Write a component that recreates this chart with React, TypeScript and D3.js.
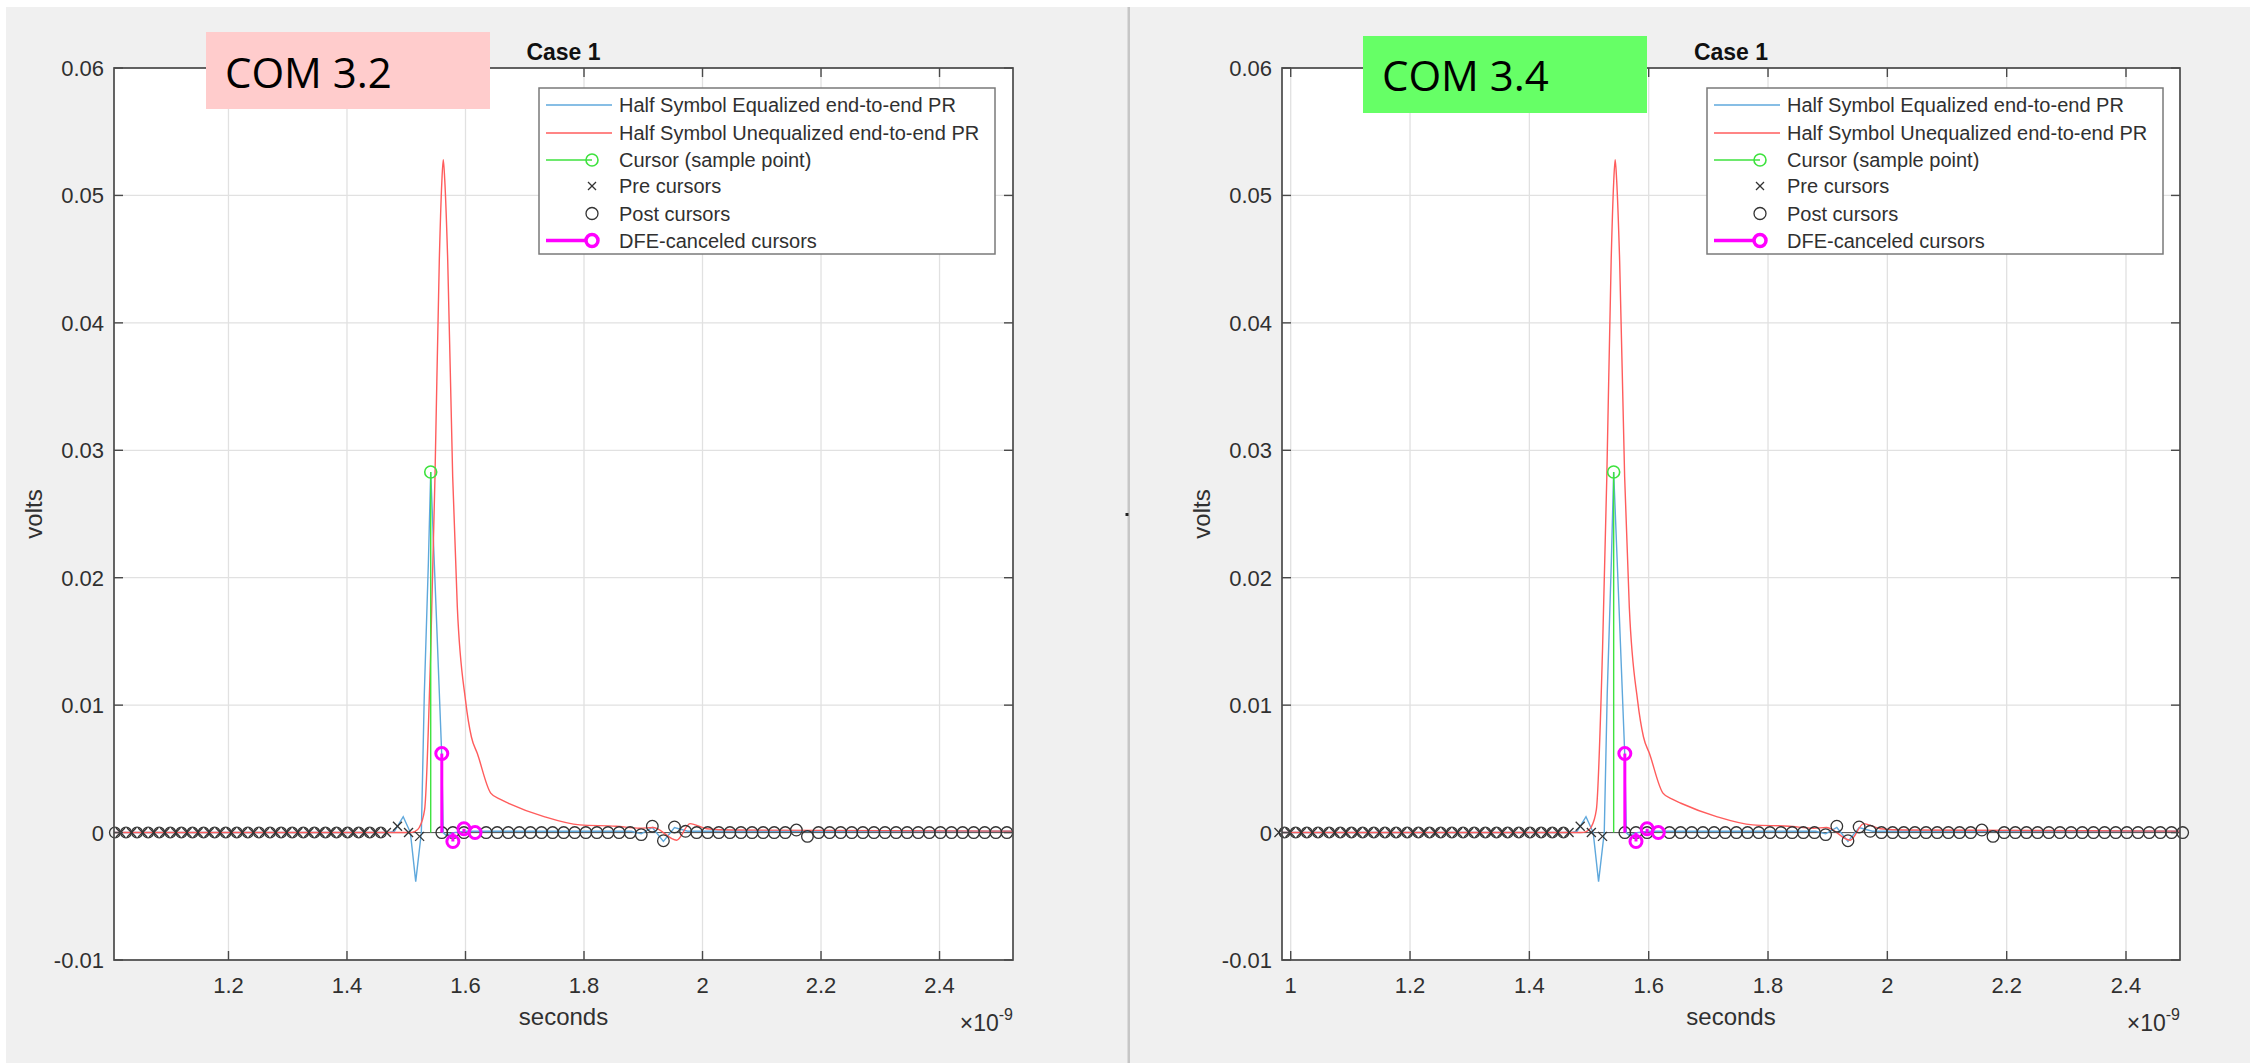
import React from 'react';
import * as d3 from 'd3';

const W = 2254;
const H = 1063;

// ---------- data ----------
const panelTitles = ['Case 1', 'Case 1'];
const versionLabels = ['COM 3.2', 'COM 3.4'];
const versionFills = ['#ffcccc', '#66ff66'];

const legendLabels = [
  'Half Symbol Equalized end-to-end PR',
  'Half Symbol Unequalized end-to-end PR',
  'Cursor (sample point)',
  'Pre cursors',
  'Post cursors',
  'DFE-canceled cursors',
];

const yTicks = [-0.01, 0, 0.01, 0.02, 0.03, 0.04, 0.05, 0.06];
const yTickLabels = ['-0.01', '0', '0.01', '0.02', '0.03', '0.04', '0.05', '0.06'];
const xTicksLeft = [1.2, 1.4, 1.6, 1.8, 2.0, 2.2, 2.4];
const xTickLabelsLeft = ['1.2', '1.4', '1.6', '1.8', '2', '2.2', '2.4'];
const xTicksRight = [1.0, 1.2, 1.4, 1.6, 1.8, 2.0, 2.2, 2.4];
const xTickLabelsRight = ['1', '1.2', '1.4', '1.6', '1.8', '2', '2.2', '2.4'];
const xDomainLeft = [1.0068, 2.524];
const xDomainRight = [0.9854, 2.4905];
const yDomain = [-0.01, 0.06];

// equalized pulse response (time in ns, volts)
const eqTimes = [0.95, 1.47, 1.48, 1.4949, 1.507, 1.516, 1.5255, 1.5305, 1.5373, 1.5413, 1.55, 1.5598, 1.5625, 1.567, 1.58, 1.6, 1.88, 1.8966, 1.9153, 1.934, 1.9527, 1.975, 2.0, 2.6];
const eqValues = [0, 0, 0.0001, 0.00125, 0, -0.00385, 0, 0.0109, 0.0211, 0.0283, 0.018, 0.0062, 0, -0.0002, 0, 0.0001, 0.0001, -0.0001, 0.0004, -0.0007, 0.0004, 0.0001, 0.0001, 0.0001];

// unequalized pulse response (time in ns, volts)
const uneqTimes = [0.95, 1.505, 1.515, 1.522, 1.531, 1.5413, 1.5485, 1.5558, 1.56, 1.5625, 1.565, 1.57, 1.5784, 1.5862, 1.6, 1.61, 1.62, 1.6426, 1.659, 1.6727, 1.7325, 1.793, 1.854, 1.8945, 1.917, 1.9565, 1.979, 2.007, 2.05, 2.6];
const uneqValues = [0, 0, 0.0001, 0.0004, 0.0018, 0.0143, 0.0279, 0.0449, 0.051, 0.0528, 0.0512, 0.0449, 0.0279, 0.0177, 0.0104, 0.0075, 0.0062, 0.0031, 0.0026, 0.0023, 0.00125, 0.0006, 0.0005, 0.00034, 0.0004, -0.0006, 0.0007, 0.0003, 0.0002, 0.0001];
const uneqShiftNs = [0, -0.0187];

const uiNs = 0.0187;
const cursorTimeNs = 1.5413;
const cursorValue = 0.0283;

// pre cursors, k = -1, -2, -3, ...
const preCursorValues = [-0.0003, 0, 0.0005, 0, 0, 0, 0, 0, 0, 0, 0, 0, 0, 0, 0, 0, 0, 0, 0, 0, 0, 0, 0, 0, 0, 0, 0, 0, 0, 0, 0];
// circles seen between the pre cursors (half-UI offset), k = -4.5, -5.5, ...
const preRegionCircleValues = [0, 0, 0, 0, 0, 0, 0, 0, 0, 0, 0, 0, 0, 0, 0, 0, 0, 0, 0, 0, 0, 0, 0, 0, 0, 0, 0];
// post cursors, k = 1, 2, 3, ...
const postCursorValues = [0, 0, 0, 0, 0, 0, 0, 0, 0, 0, 0, 0, 0, 0, 0, 0, 0, 0, -0.00016, 0.0005, -0.00064, 0.00044, 0.0001, 0, 0, 0, 0, 0, 0, 0, 0, 0, 0.0002, -0.0003, 0, 0, 0, 0, 0, 0, 0, 0, 0, 0, 0, 0, 0, 0, 0, 0, 0, 0, 0, 0];
// DFE-canceled cursors, k = 1..4
const dfeValues = [0.0062, -0.0007, 0.0003, 0.0];

// ---------- layout ----------
const PANELS = [
  {
    x0: 114, x1: 1013, y0: 68, y1: 960,
    domain: xDomainLeft, ticks: xTicksLeft, tickLabels: xTickLabelsLeft,
    box: { x: 206, y: 32, w: 284, h: 77, tx: 225, ty: 88 },
    ylabelX: 34,
  },
  {
    x0: 1282, x1: 2180, y0: 68, y1: 960,
    domain: xDomainRight, ticks: xTicksRight, tickLabels: xTickLabelsRight,
    box: { x: 1363, y: 36, w: 284, h: 77, tx: 1382, ty: 91 },
    ylabelX: 1202,
  },
];

const BLUE = '#5fa8dc';
const RED = '#ff5c5c';
const GREEN = '#3ee23e';
const MAG = '#ff00ff';
const MARK = '#333333';
const AXIS = '#4a4a4a';
const TXT = '#303030';

function XMark({ cx, cy, s = 4.5, w = 1.3 }: { cx: number; cy: number; s?: number; w?: number }) {
  return (
    <g stroke={MARK} strokeWidth={w}>
      <line x1={cx - s} y1={cy - s} x2={cx + s} y2={cy + s} />
      <line x1={cx - s} y1={cy + s} x2={cx + s} y2={cy - s} />
    </g>
  );
}

function Panel({ p, i }: { p: any; i: number }) {
  const x = d3.scaleLinear().domain(p.domain).range([p.x0, p.x1]);
  const y = d3.scaleLinear().domain(yDomain).range([p.y1, p.y0]);
  const lin = d3.line<[number, number]>().x((d) => x(d[0])).y((d) => y(d[1])).curve(d3.curveLinear);
  const mono = d3.line<[number, number]>().x((d) => x(d[0])).y((d) => y(d[1])).curve(d3.curveMonotoneX);
  const eqPath = lin(eqTimes.map((t, j) => [t, eqValues[j]] as [number, number])) || '';
  const uneqPath = mono(uneqTimes.map((t, j) => [t + uneqShiftNs[i], uneqValues[j]] as [number, number])) || '';
  const [d0, d1] = p.domain;
  const inDom = (t: number) => t >= d0 - uiNs * 0.35 && t <= d1 + uiNs * 0.35;

  const pre = preCursorValues.map((v, j) => ({ t: cursorTimeNs - (j + 1) * uiNs, v })).filter((m) => inDom(m.t));
  const preCirc = preRegionCircleValues.map((v, j) => ({ t: cursorTimeNs - (j + 4.5) * uiNs, v })).filter((m) => inDom(m.t));
  const post = postCursorValues.map((v, j) => ({ t: cursorTimeNs + (j + 1) * uiNs, v })).filter((m) => inDom(m.t));
  const dfe = dfeValues.map((v, j) => ({ t: cursorTimeNs + (j + 1) * uiNs, v }));

  const clipId = `clip${i}`;
  const lx = p.x0 + 425;
  const ly = p.y0 + 20;
  const rowY = [17, 45, 72, 98, 125.5, 152.5];
  const cx = (p.x0 + p.x1) / 2;

  return (
    <g>
      <defs>
        <clipPath id={clipId}>
          <rect x={p.x0} y={p.y0} width={p.x1 - p.x0} height={p.y1 - p.y0} />
        </clipPath>
      </defs>
      <rect x={p.x0} y={p.y0} width={p.x1 - p.x0} height={p.y1 - p.y0} fill="#fff" />
      {/* grid */}
      <g stroke="#e1e1e1" strokeWidth={1.3}>
        {p.ticks.map((t: number) => (
          <line key={'gx' + t} x1={x(t)} x2={x(t)} y1={p.y0} y2={p.y1} />
        ))}
        {yTicks.map((t) => (
          <line key={'gy' + t} x1={p.x0} x2={p.x1} y1={y(t)} y2={y(t)} />
        ))}
      </g>
      {/* data */}
      <g clipPath={`url(#${clipId})`}>
        <line x1={p.x0} x2={p.x1} y1={y(0)} y2={y(0)} stroke="#555" strokeWidth={1} />
        <path d={eqPath} fill="none" stroke={BLUE} strokeWidth={1.4} />
        <path d={uneqPath} fill="none" stroke={RED} strokeWidth={1.4} />
        <line x1={x(cursorTimeNs)} x2={x(cursorTimeNs)} y1={y(0)} y2={y(cursorValue)} stroke={GREEN} strokeWidth={1.4} />
      </g>
      <circle cx={x(cursorTimeNs)} cy={y(cursorValue)} r={6} fill="none" stroke={GREEN} strokeWidth={1.6} />
      {pre.map((m, j) => (
        <XMark key={'pre' + j} cx={x(m.t)} cy={y(m.v)} />
      ))}
      {preCirc.map((m, j) => (
        <circle key={'pc' + j} cx={x(m.t)} cy={y(m.v)} r={5.4} fill="none" stroke={MARK} strokeWidth={1.3} />
      ))}
      {post.map((m, j) => (
        <circle key={'po' + j} cx={x(m.t)} cy={y(m.v)} r={5.8} fill="none" stroke={MARK} strokeWidth={1.3} />
      ))}
      {dfe.map((m, j) => (
        <g key={'dfe' + j}>
          <line x1={x(m.t)} x2={x(m.t)} y1={y(0)} y2={y(m.v)} stroke={MAG} strokeWidth={3} />
          <circle cx={x(m.t)} cy={y(m.v)} r={6} fill="none" stroke={MAG} strokeWidth={3} />
        </g>
      ))}
      {/* axes box */}
      <rect x={p.x0} y={p.y0} width={p.x1 - p.x0} height={p.y1 - p.y0} fill="none" stroke={AXIS} strokeWidth={1.7} />
      <g stroke={AXIS} strokeWidth={1.4}>
        {p.ticks.map((t: number) => (
          <g key={'tx' + t}>
            <line x1={x(t)} x2={x(t)} y1={p.y1} y2={p.y1 - 9} />
            <line x1={x(t)} x2={x(t)} y1={p.y0} y2={p.y0 + 9} />
          </g>
        ))}
        {yTicks.map((t) => (
          <g key={'ty' + t}>
            <line x1={p.x0} x2={p.x0 + 9} y1={y(t)} y2={y(t)} />
            <line x1={p.x1} x2={p.x1 - 9} y1={y(t)} y2={y(t)} />
          </g>
        ))}
      </g>
      {/* tick labels */}
      <g fontSize={22} fill={TXT}>
        {p.ticks.map((t: number, j: number) => (
          <text key={'lx' + t} x={x(t)} y={993} textAnchor="middle">
            {p.tickLabels[j]}
          </text>
        ))}
        {yTicks.map((t, j) => (
          <text key={'ly' + t} x={p.x0 - 10} y={y(t) + 8} textAnchor="end">
            {yTickLabels[j]}
          </text>
        ))}
      </g>
      <text x={cx} y={1025} textAnchor="middle" fontSize={24} fill={TXT}>seconds</text>
      <text transform={`translate(${p.ylabelX + 8},${(p.y0 + p.y1) / 2}) rotate(-90)`} textAnchor="middle" fontSize={24} fill={TXT}>volts</text>
      <text x={p.x1} y={1031} textAnchor="end" fontSize={23} fill={TXT}>
        ×10<tspan fontSize={16} dy={-11}>-9</tspan>
      </text>
      <text x={cx} y={60} textAnchor="middle" fontSize={23} fontWeight="bold" fill="#111">{panelTitles[i]}</text>
      {/* version label */}
      <rect x={p.box.x} y={p.box.y} width={p.box.w} height={p.box.h} fill={versionFills[i]} />
      <text x={p.box.tx} y={p.box.ty} fontFamily="'Open Sans', 'Noto Sans', sans-serif" fontSize={42} fill="#000">{versionLabels[i]}</text>
      {/* legend */}
      <rect x={lx} y={ly} width={456} height={166} fill="#fff" stroke="#7a7a7a" strokeWidth={1.5} />
      <g>
        <line x1={lx + 7} x2={lx + 73} y1={ly + rowY[0]} y2={ly + rowY[0]} stroke={BLUE} strokeWidth={1.6} />
        <line x1={lx + 7} x2={lx + 73} y1={ly + rowY[1]} y2={ly + rowY[1]} stroke={RED} strokeWidth={1.6} />
        <line x1={lx + 7} x2={lx + 53} y1={ly + rowY[2]} y2={ly + rowY[2]} stroke={GREEN} strokeWidth={1.6} />
        <circle cx={lx + 53} cy={ly + rowY[2]} r={6} fill="none" stroke={GREEN} strokeWidth={1.6} />
        <XMark cx={lx + 53} cy={ly + rowY[3]} s={4} />
        <circle cx={lx + 53} cy={ly + rowY[4]} r={6} fill="none" stroke={MARK} strokeWidth={1.3} />
        <line x1={lx + 7} x2={lx + 53} y1={ly + rowY[5]} y2={ly + rowY[5]} stroke={MAG} strokeWidth={3.5} />
        <circle cx={lx + 53} cy={ly + rowY[5]} r={6} fill="#fff" stroke={MAG} strokeWidth={3.5} />
      </g>
      <g fontSize={20} fill={TXT}>
        {legendLabels.map((s, j) => (
          <text key={s} x={lx + 80} y={ly + rowY[j] + 7}>{s}</text>
        ))}
      </g>
    </g>
  );
}

export default function App() {
  return (
    <svg
      width={W}
      height={H}
      style={{ position: 'absolute', left: 0, top: 0, display: 'block' }}
      fontFamily="'Liberation Sans', Arial, Helvetica, sans-serif"
    >
      <rect width={W} height={H} fill="#fff" />
      <rect x={6} y={7} width={W - 10} height={H - 7} fill="#f0f0f0" />
      <rect x={1127.5} y={7} width={2.5} height={H - 7} fill="#c6c6c6" />
      <rect x={1125.5} y={513} width={3} height={3} fill="#222" />
      {PANELS.map((p, i) => (
        <Panel key={i} p={p} i={i} />
      ))}
    </svg>
  );
}
